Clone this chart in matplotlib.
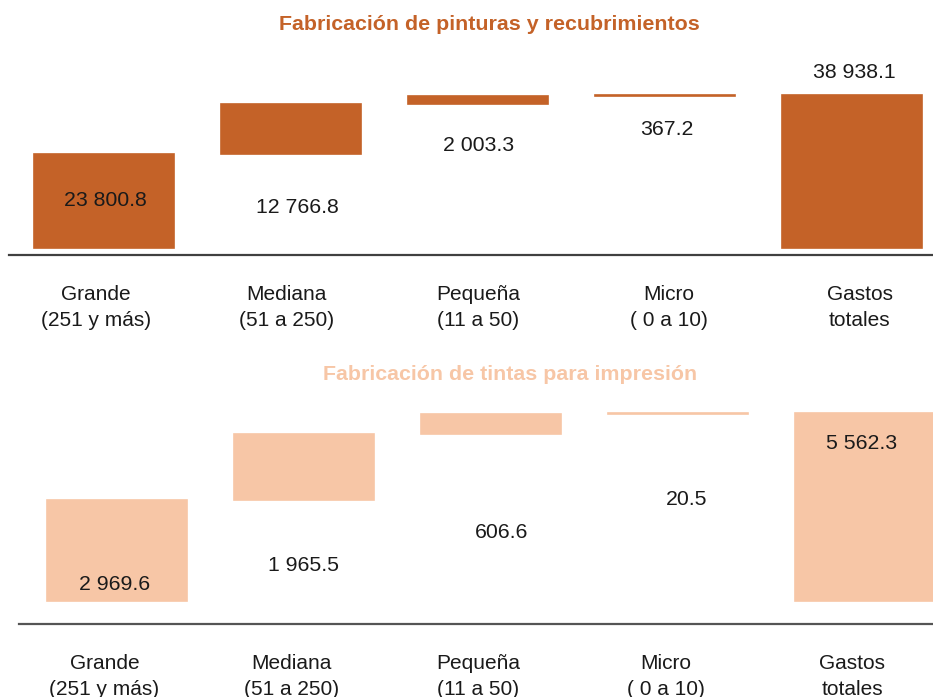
import numpy as np
import matplotlib
matplotlib.use("Agg")
import matplotlib.pyplot as plt

plt.rcParams["font.family"] = ["Liberation Sans", "DejaVu Sans"]

# --------------------------------------------------
# Data: expenses by company size (waterfall)
# --------------------------------------------------
categories = ["Grande\n(251 y más)", "Mediana\n(51 a 250)", "Pequeña\n(11 a 50)",
              "Micro\n( 0 a 10)", "Gastos\ntotales"]

pinturas = [23800.8, 12766.8, 2003.3, 367.2]
pinturas_total = 38938.1
tintas = [2969.6, 1965.5, 606.6, 20.5]
tintas_total = 5562.3

# label anchors (data units) and horizontal nudges (category units)
pinturas_label_y = [11911, 10118, 26000, 30098, 44620]
pinturas_label_dx = [0.008, 0.032, 0.003, 0.008, 0.013]
tintas_label_y = [489, 1053, 2032, 3011, 4672]
tintas_label_dx = [-0.011, 0.0, 0.056, 0.045, -0.016]

W, H = 933, 697
fig = plt.figure(figsize=(W / 100, H / 100), dpi=100)

text_c = "#1a1a1a"


def fmt(v):
    return f"{v:,.1f}".replace(",", " ")


def waterfall(px_left, px_right, px_axis, px_zero, px_top, px_total, center0,
              values, total, color, axis_color, label_y, label_dx,
              tick_shift, tick_step):
    # axes placed in pixel terms
    ax = fig.add_axes([px_left / W, 1 - px_axis / H,
                       (px_right - px_left) / W, (px_axis - px_top) / H])
    scale = (px_zero - px_total) / total          # pixels per unit
    ax.set_ylim(-(px_axis - px_zero) / scale, (px_zero - px_top) / scale)
    step = 187.0
    x0 = -(center0 - px_left) / step
    ax.set_xlim(x0, x0 + (px_right - px_left) / step)

    bottoms = np.concatenate([[0], np.cumsum(values)[:-1]])
    heights = list(values) + [total]
    bottoms = list(bottoms) + [0]
    x = np.arange(len(heights))
    ax.bar(x, heights, bottom=bottoms, width=0.75, color=color,
           edgecolor=color, linewidth=1.2)

    for i, h in enumerate(heights):
        ax.text(x[i] + label_dx[i], label_y[i], fmt(h), ha="center", va="center",
                fontsize=15.3, color=text_c)

    for s in ["top", "left", "right"]:
        ax.spines[s].set_visible(False)
    ax.spines["bottom"].set_color(axis_color)
    ax.spines["bottom"].set_linewidth(1.6)
    ax.set_yticks([])
    ax.set_xticks(x * tick_step + tick_shift)
    ax.set_xticklabels(categories, fontsize=15, color=text_c, linespacing=1.46)
    ax.tick_params(axis="x", length=0, pad=21.5)
    ax.patch.set_alpha(0)
    return ax


waterfall(9, 933, 255, 247.5, 50, 95, 104, pinturas, pinturas_total, "#C46228",
          "#404040", pinturas_label_y, pinturas_label_dx, -0.043, 1.021)
waterfall(19, 933, 624, 600.5, 400, 413, 117, tintas, tintas_total, "#F7C6A6",
          "#555555", tintas_label_y, tintas_label_dx, -0.067, 1.0)

fig.text(489 / W, 1 - 25 / H, "Fabricación de pinturas y recubrimientos",
         ha="center", va="center", fontsize=15.4, fontweight="bold", color="#C46228")
fig.text(510 / W, 1 - 375 / H, "Fabricación de tintas para impresión",
         ha="center", va="center", fontsize=15.4, fontweight="bold", color="#F7C6A6")

fig.savefig("out.png", dpi=100)
